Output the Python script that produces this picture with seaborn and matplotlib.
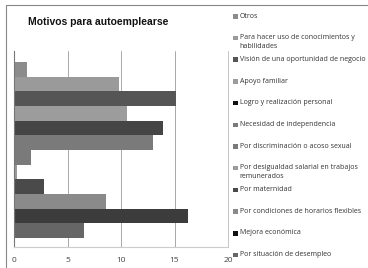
import matplotlib
matplotlib.use("Agg")
import matplotlib.pyplot as plt
import seaborn as sns
import pandas as pd
from matplotlib.patches import Rectangle
from matplotlib.lines import Line2D

categories = [
    "Otros",
    "Para hacer uso de conocimientos y\nhabilidades",
    "Visión de una oportunidad de negocio",
    "Apoyo familiar",
    "Logro y realización personal",
    "Necesidad de independencia",
    "Por discriminación o acoso sexual",
    "Por desigualdad salarial en trabajos\nremunerados",
    "Por maternidad",
    "Por condiciones de horarios flexibles",
    "Mejora económica",
    "Por situación de desempleo",
]
values = [1.2, 9.8, 15.1, 10.6, 13.9, 13.0, 1.6, 0.3, 2.8, 8.6, 16.3, 6.5]
colors = ["#8c8c8c", "#9a9a9a", "#555555", "#9c9c9c", "#454545", "#7a7a7a",
          "#7a7a7a", "#9a9a9a", "#4a4a4a", "#8a8a8a", "#3c3c3c", "#666666"]
legend_colors = ["#8c8c8c", "#9a9a9a", "#555555", "#9c9c9c", "#111111", "#7a7a7a",
                 "#7a7a7a", "#9a9a9a", "#4a4a4a", "#8a8a8a", "#111111", "#666666"]
xticks = [0, 5, 10, 15, 20]
title = "Motivos para autoemplearse"

sns.set_style("white")
plt.rcParams["font.family"] = ["Open Sans", "DejaVu Sans"]

df = pd.DataFrame({"cat": categories, "val": values})

W, H = 368, 268
fig = plt.figure(figsize=(W / 100, H / 100), dpi=100)
ax = fig.add_axes([14 / W, (H - 247) / H, (228 - 14) / W, (247 - 51) / H])

sns.barplot(data=df, y="cat", x="val", hue="cat", palette=colors, orient="h",
            width=1.0, legend=False, ax=ax, linewidth=0, saturation=1)

ax.set_xlim(0, 20)
ax.set_ylim(11.5 + 9 / 14.67, -0.5 - 11 / 14.67)
ax.set_xticks(xticks)
ax.set_xticklabels([str(t) for t in xticks], fontsize=6, color="#444444")
ax.tick_params(axis="x", length=0, pad=7)
ax.set_yticks([])
ax.set_xlabel("")
ax.set_ylabel("")
ax.grid(axis="x", color="#9a9a9a", linewidth=0.6)
ax.set_axisbelow(True)
ax.spines["top"].set_visible(False)
ax.spines["right"].set_color("#bbbbbb")
ax.spines["right"].set_linewidth(0.6)
ax.spines["bottom"].set_color("#cccccc")
ax.spines["bottom"].set_linewidth(0.8)
ax.spines["left"].set_color("#777777")
ax.spines["left"].set_linewidth(0.8)

fig.text(28 / W, 1 - 22 / H, title, fontsize=7.5, fontweight="bold",
         family=["Liberation Sans", "DejaVu Sans"], va="center", ha="left", color="#111111")

# manual legend
y0 = 16
step = 21.7
for i, (lab, c) in enumerate(zip(categories, legend_colors)):
    y = y0 + i * step
    fig.add_artist(Rectangle((233 / W, 1 - (y + 2.5) / H), 4.5 / W, 4.5 / H,
                             transform=fig.transFigure, facecolor=c, edgecolor="none"))
    fig.text(239.5 / W, 1 - (y - 3.5) / H, lab, fontsize=5.0, color="#333333",
             va="top", ha="left", linespacing=1.3)

# outer border
fig.add_artist(Line2D([6 / W, 1], [1 - 5 / H, 1 - 5 / H], transform=fig.transFigure,
                      color="#888888", linewidth=0.8))
fig.add_artist(Line2D([6 / W, 6 / W], [0, 1 - 5 / H], transform=fig.transFigure,
                      color="#888888", linewidth=0.8))

fig.savefig("out.png", dpi=100, facecolor="white")
